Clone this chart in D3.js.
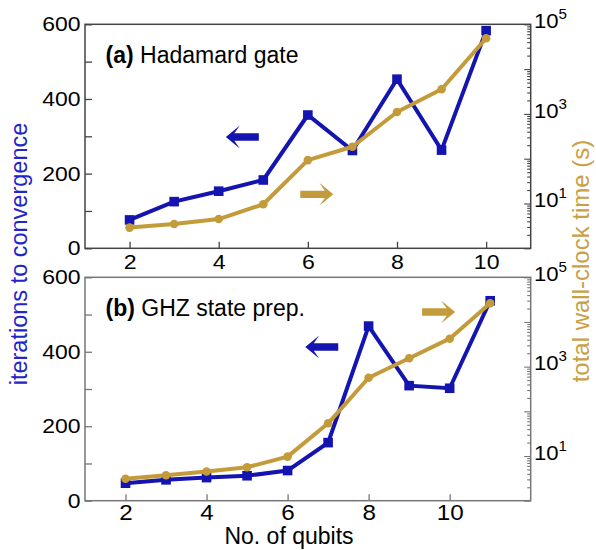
<!DOCTYPE html>
<html>
<head>
<meta charset="utf-8">
<script src="https://cdn.jsdelivr.net/npm/d3@7"></script>
<style>
  html, body { margin: 0; padding: 0; background: #fff; }
  svg { display: block; font-family: "Liberation Sans", Arial, Helvetica, sans-serif; }
</style>
</head>
<body>
<svg id="chart" width="596" height="550"></svg>
<script>
// ---------- data ----------
const qubitsA = [2, 3, 4, 5, 6, 7, 8, 9, 10];
const iterationsA = [76, 125, 153, 183, 357, 262, 453, 263, 583];
const timeA = [2.9, 3.5, 4.5, 9.6, 93, 185, 1100, 3540, 48700];

const qubitsB = [2, 3, 4, 5, 6, 7, 8, 9, 10, 11];
const iterationsB = [47, 56, 62, 67, 81, 156, 469, 309, 302, 537];
const timeB = [3.1, 3.7, 4.5, 5.6, 9.7, 54, 566, 1540, 4230, 26200];

const xTickValues = [2, 4, 6, 8, 10];
const iterTickValues = [0, 100, 200, 300, 400, 500, 600];
const iterTickLabels = [0, 200, 400, 600];
const timeExponents = [0, 1, 2, 3, 4, 5];
const timeLabelExponents = [1, 3, 5];

const panelTitles = [["(a)", " Hadamard gate"], ["(b)", " GHZ state prep."]];
const yLabelLeft = "iterations to convergence";
const yLabelRight = "total wall-clock time (s)";
const xLabel = "No. of qubits";

// arrow annotations in data units
const arrowsA = [
  { x: 4.9, y: 298, dir: -1, axis: "left" },
  { x: 5.83, y: 16, dir: 1, axis: "right" }
];
const arrowsB = [
  { x: 7.25, y: 413, dir: -1, axis: "left" },
  { x: 9.32, y: 16700, dir: 1, axis: "right" }
];

// ---------- style ----------
const BLUE = "#1414b0";
const GOLD = "#c49b3a";
const BLUE_TXT = "#2424c8";
const GOLD_TXT = "#c9a045";
const FONT = '"Liberation Sans", Arial, Helvetica, sans-serif';

const svg = d3.select("#chart");

const panels = [
  { top: 24.3, bottom: 248.3, xDomain: [1, 11], qubits: qubitsA, iters: iterationsA, times: timeA,
    title: panelTitles[0], arrows: arrowsA, frame: "#444", tickFont: 21, xPad: 5.5 },
  { top: 277.3, bottom: 500.7, xDomain: [1, 12], qubits: qubitsB, iters: iterationsB, times: timeB,
    title: panelTitles[1], arrows: arrowsB, frame: "#777", tickFont: 22, xPad: 3.5 }
];
const LEFT = 85, RIGHT = 530.7;

function drawPanel(p) {
  const g = svg.append("g");
  const x = d3.scaleLinear().domain(p.xDomain).range([LEFT, RIGHT]);
  const yL = d3.scaleLinear().domain([0, 600]).range([p.bottom, p.top]);
  const yR = d3.scaleLog().domain([1, 1e5]).range([p.bottom, p.top]);

  g.append("rect").attr("x", LEFT).attr("y", p.top)
    .attr("width", RIGHT - LEFT).attr("height", p.bottom - p.top)
    .attr("fill", "none").attr("stroke", p.frame).attr("stroke-width", 1.5);

  const ax = g.append("g").attr("transform", `translate(0,${p.bottom})`)
    .call(d3.axisBottom(x).tickValues(xTickValues).tickSizeInner(-6.5).tickSizeOuter(0).tickPadding(p.xPad));
  ax.select(".domain").remove();
  ax.selectAll("line").attr("stroke", p.frame).attr("stroke-width", 1.3);
  ax.selectAll("text").attr("font-size", p.tickFont).attr("font-family", FONT).attr("fill", "#000")
    .attr("transform", "scale(1.1,1)");

  const al = g.append("g").attr("transform", `translate(${LEFT},0)`)
    .call(d3.axisLeft(yL).tickValues(iterTickValues).tickSizeInner(-7).tickSizeOuter(0).tickPadding(4)
      .tickFormat(d => iterTickLabels.includes(d) ? String(d) : ""));
  al.select(".domain").remove();
  al.selectAll("line").attr("stroke", p.frame).attr("stroke-width", 1.3);
  al.selectAll("text").attr("font-size", 20.5).attr("font-family", FONT).attr("fill", "#000")
    .attr("transform", "scale(1.12,1)");

  const allLog = [];
  timeExponents.forEach(e => {
    if (e < 5) { for (let m = 1; m <= 9; m++) allLog.push(m * Math.pow(10, e)); }
    else allLog.push(Math.pow(10, e));
  });
  const isMajor = v => Math.abs(Math.log10(v) - Math.round(Math.log10(v))) < 1e-9;
  const ar = g.append("g").attr("transform", `translate(${RIGHT},0)`)
    .call(d3.axisRight(yR).tickValues(allLog).tickSizeInner(-6).tickSizeOuter(0).tickPadding(3).tickFormat(""));
  ar.select(".domain").remove();
  ar.selectAll(".tick line").attr("stroke", p.frame).attr("stroke-width", 1.1)
    .attr("x2", d => isMajor(d) ? -6.5 : -3.5);
  ar.selectAll(".tick text").each(function (d) {
    const t = d3.select(this);
    const e = Math.round(Math.log10(d));
    if (isMajor(d) && timeLabelExponents.includes(e)) {
      t.text(null).attr("font-family", FONT).attr("fill", "#000").attr("text-anchor", "start");
      t.append("tspan").attr("font-size", 20.5).text("10");
      t.append("tspan").attr("font-size", 14).attr("dy", -9).text(String(e));
      t.attr("transform", "scale(1.08,1)");
    }
  });

  const lineL = d3.line().x((d, i) => x(p.qubits[i])).y(d => yL(d));
  g.append("path").datum(p.iters).attr("d", lineL)
    .attr("fill", "none").attr("stroke", BLUE).attr("stroke-width", 4).attr("stroke-linejoin", "miter");
  g.selectAll(".sq").data(p.iters).enter().append("rect")
    .attr("x", (d, i) => x(p.qubits[i]) - 4.8).attr("y", d => yL(d) - 4.8)
    .attr("width", 9.6).attr("height", 9.6).attr("fill", BLUE);

  const lineR = d3.line().x((d, i) => x(p.qubits[i])).y(d => yR(d));
  g.append("path").datum(p.times).attr("d", lineR)
    .attr("fill", "none").attr("stroke", GOLD).attr("stroke-width", 4).attr("stroke-linejoin", "round");
  g.selectAll(".ci").data(p.times).enter().append("circle")
    .attr("cx", (d, i) => x(p.qubits[i])).attr("cy", d => yR(d)).attr("r", 4.3).attr("fill", GOLD);

  const arrowPath = "M0,-3.7 L24.5,-3.7 L19,-11.5 L33,0 L19,11.5 L24.5,3.7 L0,3.7 Z";
  p.arrows.forEach(a => {
    const px = x(a.x);
    const py = a.axis === "left" ? yL(a.y) : yR(a.y);
    g.append("path").attr("d", arrowPath)
      .attr("transform", `translate(${px},${py}) scale(${a.dir},1)`)
      .attr("fill", a.axis === "left" ? BLUE : GOLD);
  });

  const tt = g.append("text").attr("x", LEFT + 20.5).attr("y", p.top + 39)
    .attr("font-family", FONT).attr("font-size", 23).attr("fill", "#000");
  tt.append("tspan").attr("font-weight", "bold").text(p.title[0]);
  tt.append("tspan").text(p.title[1]);

  return x;
}

panels.forEach(drawPanel);

svg.append("text")
  .attr("transform", "translate(27,254) rotate(-90)")
  .attr("text-anchor", "middle").attr("font-family", FONT).attr("font-size", 23.5)
  .attr("fill", BLUE_TXT).text(yLabelLeft);

svg.append("text")
  .attr("transform", "translate(589,261) rotate(-90)")
  .attr("text-anchor", "middle").attr("font-family", FONT).attr("font-size", 24)
  .attr("fill", GOLD_TXT).text(yLabelRight);

svg.append("text")
  .attr("x", 289).attr("y", 544)
  .attr("text-anchor", "middle").attr("font-family", FONT).attr("font-size", 23)
  .attr("fill", "#000").text(xLabel);
</script>
</body>
</html>
